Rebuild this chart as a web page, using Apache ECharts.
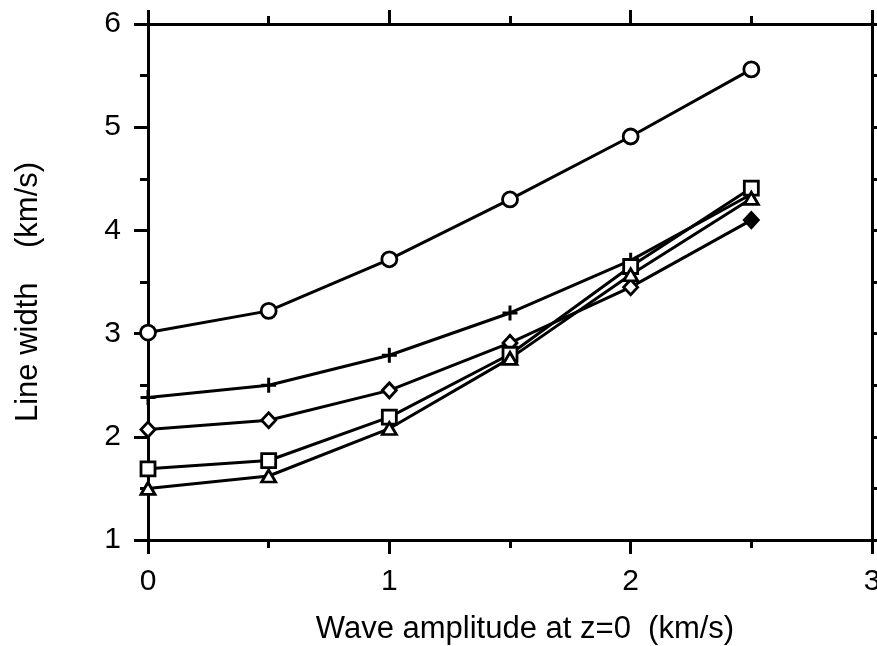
<!DOCTYPE html>
<html>
<head>
<meta charset="utf-8">
<script src="https://cdn.jsdelivr.net/npm/echarts@6/dist/echarts.min.js"></script>
<style>
  html, body { margin: 0; padding: 0; background: #fff; }
  #chart { width: 877px; height: 646px; }
</style>
</head>
<body>
<div id="chart"></div>
<script>
// 图表容器
var chart = echarts.init(document.getElementById('chart'));

// x: 波幅 (km/s)
var amplitude = [0, 0.5, 1, 1.5, 2, 2.5];
// 各组线宽 (km/s)
var circleWidth = [3.01, 3.22, 3.72, 4.30, 4.91, 5.56];
var plusWidth = [2.38, 2.50, 2.79, 3.20, 3.71, 4.35];
var diamondWidth = [2.07, 2.16, 2.45, 2.91, 3.45, 4.10];
var squareWidth = [1.69, 1.77, 2.19, 2.80, 3.65, 4.41];
var triangleWidth = [1.50, 1.62, 2.08, 2.76, 3.57, 4.31];

var font = 'Liberation Sans, Arial, sans-serif';
var plusPath = 'path://M4,0 L6,0 L6,4 L10,4 L10,6 L6,6 L6,10 L4,10 L4,6 L0,6 L0,4 L4,4 Z';

function pairs(ys) {
    var d = [];
    for (var i = 0; i < amplitude.length; i++) {
        d.push([amplitude[i], ys[i]]);
    }
    return d;
}

// 坐标轴公共样式
function axisBase(extra) {
    var a = {
        axisLine: { show: true, onZero: false, lineStyle: { color: '#000', width: 3 } },
        axisTick: { show: true, inside: false, length: 14, lineStyle: { color: '#000', width: 3 } },
        minorTick: { show: true, splitNumber: 2, length: 8, lineStyle: { color: '#000', width: 3 } },
        splitLine: { show: false },
        minorSplitLine: { show: false },
        axisLabel: { show: true, color: '#000', fontSize: 30, fontFamily: font, margin: 27 }
    };
    for (var k in extra) a[k] = extra[k];
    return a;
}

function makeSeries(name, ys, symbol, size, fill) {
    return {
        name: name,
        type: 'line',
        xAxisIndex: 0,
        yAxisIndex: 0,
        data: pairs(ys),
        symbol: symbol,
        symbolSize: size,
        showAllSymbol: true,
        lineStyle: { color: '#000', width: 3 },
        itemStyle: { color: fill, borderColor: '#000', borderWidth: symbol.indexOf('path') === 0 ? 0 : 2.8 },
        emphasis: { disabled: true },
        animation: false
    };
}

var diamondSeries = makeSeries('diamond', diamondWidth, 'diamond', [14, 15], '#fff');
// 最后一个点是实心菱形
diamondSeries.data[diamondSeries.data.length - 1] = {
    value: diamondSeries.data[diamondSeries.data.length - 1],
    itemStyle: { color: '#000' }
};

var option = {
    backgroundColor: '#fff',
    animation: false,
    grid: { left: 148, right: 5, top: 24, bottom: 106, outerBoundsMode: 'none' },
    xAxis: [
        axisBase({
            type: 'value', position: 'bottom', min: 0, max: 3, interval: 1,
            name: 'Wave amplitude at z=0  (km/s)',
            nameLocation: 'middle', nameGap: 74,
            nameTextStyle: { color: '#000', fontSize: 31, fontFamily: font, padding: [0, 0, 0, 30] }
        }),
        axisBase({
            type: 'value', position: 'top', min: 0, max: 3, interval: 1,
            axisLabel: { show: false }
        })
    ],
    yAxis: [
        axisBase({
            type: 'value', position: 'left', min: 1, max: 6, interval: 1,
            name: 'Line width    (km/s)',
            nameLocation: 'middle', nameGap: 104,
            nameTextStyle: { color: '#000', fontSize: 31, fontFamily: font, padding: [0, 20, 0, 0] }
        }),
        axisBase({
            type: 'value', position: 'right', min: 1, max: 6, interval: 1,
            axisLabel: { show: false }
        })
    ],
    series: [
        makeSeries('circle', circleWidth, 'circle', 15, '#fff'),
        makeSeries('plus', plusWidth, plusPath, 15, '#000'),
        diamondSeries,
        makeSeries('square', squareWidth, 'rect', 14, '#fff'),
        makeSeries('triangle', triangleWidth, 'triangle', [14, 12], '#fff')
    ]
};

chart.setOption(option);
</script>
</body>
</html>
